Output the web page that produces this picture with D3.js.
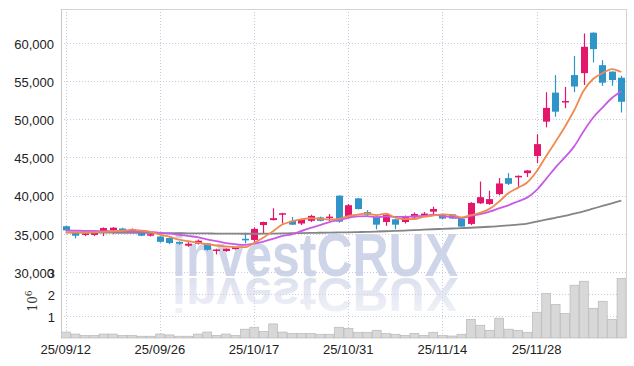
<!DOCTYPE html>
<html><head><meta charset="utf-8">
<script src="https://cdn.jsdelivr.net/npm/d3@7"></script>
<style>body{margin:0;background:#fff}svg{display:block}</style>
</head><body><svg id="c" width="634" height="366"></svg>
<script>
const dates = ["25/09/12","25/09/15","25/09/16","25/09/17","25/09/18","25/09/19","25/09/22","25/09/23","25/09/24","25/09/25",
"25/09/26","25/09/29","25/09/30","25/10/01","25/10/02","25/10/10","25/10/13","25/10/14","25/10/15","25/10/16",
"25/10/17","25/10/20","25/10/21","25/10/22","25/10/23","25/10/24","25/10/27","25/10/28","25/10/29","25/10/30",
"25/10/31","25/11/03","25/11/04","25/11/05","25/11/06","25/11/07","25/11/10","25/11/11","25/11/12","25/11/13",
"25/11/14","25/11/17","25/11/18","25/11/19","25/11/20","25/11/21","25/11/24","25/11/25","25/11/26","25/11/27",
"25/11/28","25/12/01","25/12/02","25/12/03","25/12/04","25/12/05","25/12/08","25/12/09","25/12/10","25/12/11"];
const openP  = [36000,35200,34850,34850,35300,35500,35700,35350,35200,34750,
34650,34450,33950,33450,33700,33750,32800,32750,33000,34350,
34200,36150,36800,37500,36700,36350,36700,37150,37050,40000,
37250,39650,37850,37250,36550,36900,36550,37150,37400,37900,
37450,37550,36950,36300,39000,38900,40200,42300,42400,42950,
45200,49700,53500,52300,55800,56050,61350,57100,56250,55450];
const highP  = [36050,35250,35200,35300,35850,35900,35800,35700,35250,35050,
34700,34500,34000,33900,34250,33800,33050,33100,33300,35150,
35850,36600,38350,37750,37200,37000,37500,37250,37600,40050,
38900,39700,38100,37300,37650,36950,37400,37800,37850,38550,
37500,37600,37000,39150,41850,40650,42300,42950,42650,43350,
48050,53550,55800,54250,58300,61250,61400,57750,56300,55700];
const lowP   = [35400,34400,34700,34700,34700,34950,35150,35200,34700,34650,
33850,33650,33550,33300,33600,32800,32300,32650,32950,33760,
33950,35050,36750,36350,36150,36150,36550,36650,36650,36450,
37100,38200,37350,35600,36050,35600,36350,36950,37200,37600,
36950,36950,35900,36150,38900,38800,40050,41400,41150,42450,
44250,48950,50350,51450,53550,54500,57450,54400,54400,50900];
const closeP = [35450,34750,35050,35200,35750,35800,35200,35600,34750,34950,
33950,33800,33700,33700,34100,32900,32950,33050,33250,34150,
35650,36550,37050,37700,36200,36900,37350,36700,37250,36600,
38750,38250,37500,36200,37500,36200,37250,37600,37650,38250,
37000,37000,35950,39050,39800,39550,41600,41550,42600,43300,
46750,51500,51000,52400,54300,59500,59200,54800,55150,52300];
const volumeM = [0.27,0.18,0.12,0.12,0.18,0.18,0.12,0.12,0.08,0.08,
0.18,0.14,0.08,0.08,0.18,0.27,0.12,0.18,0.12,0.40,
0.49,0.30,0.64,0.27,0.21,0.21,0.21,0.17,0.17,0.49,
0.44,0.26,0.26,0.35,0.21,0.17,0.12,0.21,0.12,0.26,
0.12,0.09,0.17,0.85,0.58,0.35,0.90,0.40,0.35,0.26,
1.17,2.03,1.53,1.12,2.40,2.58,1.35,1.67,0.85,2.71];
const ma5 = [35200,35150,35150,35200,35246,35315,35405,35517,35428,35270,
34904,34624,34238,34028,33854,33636,33470,33340,33254,33254,
33804,34519,35323,36213,36631,36885,37042,36971,36873,36951,
37325,37509,37666,37458,37642,37126,36924,36944,37232,37383,
37541,37489,37156,37446,37752,38269,39196,40315,41023,41730,
43171,45144,47038,48995,51185,53735,55280,56040,56590,56197];
const ma10 = [35450,35430,35400,35380,35350,35340,35320,35300,35280,35258,
35109,35014,34878,34728,34562,34270,34047,33789,33641,33554,
33720,33995,34332,34734,34943,35345,35781,36147,36543,36791,
37105,37276,37319,37166,37297,37226,37217,37305,37345,37512,
37334,37207,37050,37339,37568,37905,38343,38736,39234,39741,
40720,42170,43677,45009,46458,48453,50212,51539,52793,53691];
const ma60 = [35200,35190,35180,35170,35160,35150,35140,35130,35120,35110,
35100,35090,35080,35070,35060,35050,35040,35030,35020,35010,
35010,35020,35040,35060,35080,35100,35120,35140,35160,35180,
35200,35230,35260,35300,35340,35380,35430,35480,35540,35600,
35650,35700,35750,35800,35860,35930,36000,36100,36200,36330,
36600,36850,37100,37350,37650,37950,38300,38650,39000,39350];
const priceTicks = [30000,35000,40000,45000,50000,55000,60000];
const volTicks = [1,2,3];
const dateTicks = ["25/09/12","25/09/26","25/10/17","25/10/31","25/11/14","25/11/28"];

const L=61,R=626,T=9,PB=272,VB=338;
const svg=d3.select("#c");
const x=d3.scaleBand().domain(dates).range([L,R]).paddingInner(0).paddingOuter(0);
const bw=x.bandwidth();
const cx=d=>x(d)+bw/2;
const y=d3.scaleLinear().domain([30000,64454]).range([PB,T]);
const yv=d3.scaleLinear().domain([0,3]).range([VB,PB]);
const gridC="#c6cbe0";
const font="'Liberation Sans', Arial, sans-serif";

// grid
const g=svg.append("g");
g.selectAll(".hp").data(priceTicks).join("line").attr("x1",L).attr("x2",R)
 .attr("y1",d=>Math.round(y(d))+0.5).attr("y2",d=>Math.round(y(d))+0.5)
 .attr("stroke",gridC).attr("stroke-dasharray","1,2");
g.selectAll(".hv").data(volTicks.slice(0,2)).join("line").attr("x1",L).attr("x2",R)
 .attr("y1",d=>Math.round(yv(d))+0.5).attr("y2",d=>Math.round(yv(d))+0.5)
 .attr("stroke",gridC).attr("stroke-dasharray","1,2");
g.selectAll(".vv").data(dateTicks).join("line")
 .attr("x1",d=>Math.round(cx(d))+0.5).attr("x2",d=>Math.round(cx(d))+0.5)
 .attr("y1",T).attr("y2",VB).attr("stroke",gridC).attr("stroke-dasharray","1,2");

// watermark
const defs=svg.append("defs");
const grad=defs.append("linearGradient").attr("id","rg").attr("x1",0).attr("x2",0).attr("y1",0).attr("y2",1);
grad.append("stop").attr("offset","0").attr("stop-color","#cfd5e8").attr("stop-opacity",0.2);
grad.append("stop").attr("offset","1").attr("stop-color","#cfd5e8").attr("stop-opacity",0.85);
const wmY=276;
svg.append("text").attr("x",172).attr("y",wmY).text("investCRUX")
 .attr("font-family",font).attr("font-weight","bold").attr("font-size",61)
 .attr("textLength",286).attr("lengthAdjust","spacingAndGlyphs").attr("fill","#cfd5e8");
svg.append("g").attr("transform",`translate(0,${wmY+2}) scale(1,-0.8) translate(0,${-wmY})`)
 .append("text").attr("x",172).attr("y",wmY).text("investCRUX")
 .attr("font-family",font).attr("font-weight","bold").attr("font-size",61)
 .attr("textLength",286).attr("lengthAdjust","spacingAndGlyphs").attr("fill","url(#rg)");

// volume bars
svg.append("g").selectAll("rect").data(dates).join("rect")
 .attr("x",d=>x(d)+0.5).attr("width",bw-0.5)
 .attr("y",(d,i)=>yv(volumeM[i])).attr("height",(d,i)=>VB-yv(volumeM[i]))
 .attr("fill","#d8d8d8").attr("stroke","#b9b9b9").attr("stroke-width",0.7);

// frame
svg.append("line").attr("x1",L).attr("x2",R).attr("y1",T+0.5).attr("y2",T+0.5).attr("stroke","#d4d4d4");
svg.append("line").attr("x1",L+0.5).attr("x2",L+0.5).attr("y1",T).attr("y2",VB).attr("stroke","#c8c8c8");
svg.append("line").attr("x1",R+0.5).attr("x2",R+0.5).attr("y1",T).attr("y2",VB).attr("stroke","#d4d4d4");
svg.append("line").attr("x1",L).attr("x2",R).attr("y1",PB+0.5).attr("y2",PB+0.5).attr("stroke",gridC).attr("stroke-dasharray","1,2");

// candles
const up="#e3166b", dn="#2f95c8";
const cg=svg.append("g");
dates.forEach((d,i)=>{
  const o=openP[i],c=closeP[i],col=c>=o?up:dn;
  const xc=Math.round(cx(d))+0.5;
  cg.append("line").attr("x1",xc).attr("x2",xc).attr("y1",y(highP[i])).attr("y2",y(lowP[i])).attr("stroke",col).attr("stroke-width",1.2);
  const top=y(Math.max(o,c)),h=Math.max(1.5,Math.abs(y(o)-y(c)));
  cg.append("rect").attr("x",xc-3.5).attr("width",7).attr("y",top).attr("height",h).attr("fill",col);
});

// MA lines
const line=arr=>d3.line().x((d,i)=>cx(dates[i])).y(d=>y(d)).curve(d3.curveMonotoneX)(arr);
svg.append("path").attr("d",line(ma60)).attr("fill","none").attr("stroke","#858585").attr("stroke-width",1.8);
svg.append("path").attr("d",line(ma10)).attr("fill","none").attr("stroke","#c95ae6").attr("stroke-width",1.8);
svg.append("path").attr("d",line(ma5)).attr("fill","none").attr("stroke","#ef8a50").attr("stroke-width",1.8);

// axes
const ay=svg.append("g").attr("transform",`translate(${L},0)`)
 .call(d3.axisLeft(y).tickValues(priceTicks).tickFormat(d3.format(",")).tickSize(0).tickPadding(7));
const av=svg.append("g").attr("transform",`translate(${L+1},0)`)
 .call(d3.axisLeft(yv).tickValues(volTicks).tickFormat(d3.format("d")).tickSize(0).tickPadding(7));
const ax=svg.append("g").attr("transform",`translate(0,${VB})`)
 .call(d3.axisBottom(x).tickValues(dateTicks).tickSize(0).tickPadding(7));
[ay,av,ax].forEach(a=>{a.select(".domain").remove();
  a.selectAll("text").attr("font-family",font).attr("font-size",13).attr("fill","#222");});
av.selectAll("text").attr("dy","0.45em");
ay.selectAll("text").attr("dy","0.4em");

// volume unit label
const vl=svg.append("text").attr("transform","translate(37,301) rotate(-90)")
 .attr("text-anchor","middle").attr("font-family","'DejaVu Serif', serif").attr("font-size",12).attr("fill","#333");
vl.append("tspan").text("10");
vl.append("tspan").attr("dy","-5").attr("font-size",9).text("6");
</script></body></html>
